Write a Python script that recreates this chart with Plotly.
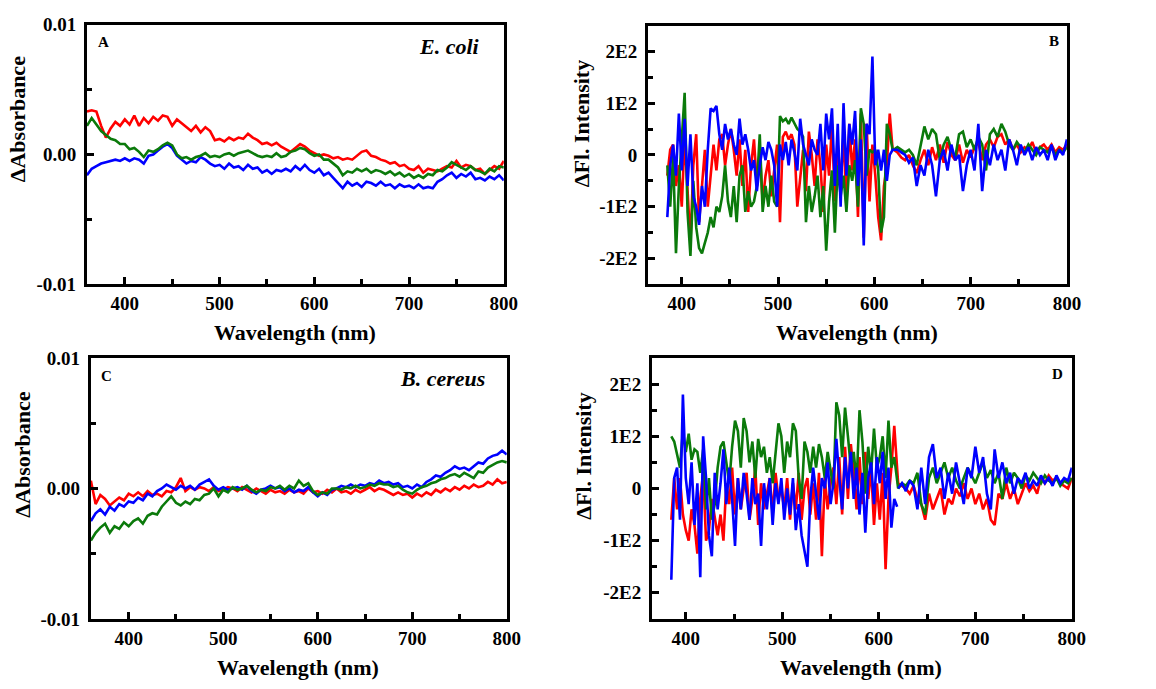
import plotly.graph_objects as go

# ---------------- data ----------------
wl_abs = list(range(360, 801, 5))          # 89 points
wl_fl1 = list(range(385, 620, 3))          # 79 points
wl_fl2 = list(range(620, 801, 4))          # 46 points

absA_red = [0.0033,0.0034,0.0033,0.0022,0.0013,0.0020,0.0025,0.0022,0.0027,0.0023,
            0.0030,0.0022,0.0028,0.0024,0.0029,0.0026,0.0030,0.0029,0.0022,0.0027,
            0.0024,0.0021,0.0018,0.0022,0.0017,0.0021,0.0018,0.0011,0.0012,0.0010,
            0.0013,0.0011,0.0013,0.0012,0.0016,0.0013,0.0011,0.0008,0.0009,0.0007,
            0.0009,0.0006,0.0004,0.0002,0.0005,0.0008,0.0006,0.0003,0.0001,-0.0001,
            0.0000,-0.0001,-0.0003,-0.0002,-0.0004,-0.0003,-0.0004,-0.0001,0.0002,0.0003,
            -0.0001,-0.0002,-0.0004,-0.0005,-0.0007,-0.0006,-0.0009,-0.0008,-0.0011,-0.0012,
            -0.0009,-0.0014,-0.0011,-0.0012,-0.0013,-0.0011,-0.0009,-0.0010,-0.0005,-0.0010,
            -0.0008,-0.0009,-0.0012,-0.0011,-0.0015,-0.0012,-0.0009,-0.0011,-0.0005]
absA_green = [0.0022,0.0028,0.0023,0.0018,0.0015,0.0012,0.0011,0.0008,0.0008,0.0004,
              0.0005,0.0002,-0.0002,0.0003,0.0002,0.0004,0.0007,0.0009,0.0007,0.0000,
              -0.0003,-0.0002,-0.0004,-0.0002,-0.0001,0.0001,-0.0002,-0.0001,-0.0002,0.0000,
              0.0001,-0.0001,0.0001,0.0002,0.0003,0.0001,-0.0001,-0.0002,-0.0001,-0.0002,
              0.0001,-0.0002,-0.0001,0.0002,0.0003,0.0005,0.0004,0.0001,-0.0001,0.0000,
              -0.0004,-0.0004,-0.0007,-0.0010,-0.0016,-0.0013,-0.0014,-0.0011,-0.0013,-0.0011,
              -0.0014,-0.0012,-0.0013,-0.0015,-0.0013,-0.0016,-0.0014,-0.0017,-0.0015,-0.0018,
              -0.0016,-0.0018,-0.0015,-0.0016,-0.0012,-0.0013,-0.0010,-0.0006,-0.0008,-0.0010,
              -0.0012,-0.0009,-0.0012,-0.0013,-0.0015,-0.0011,-0.0013,-0.0009,-0.0010]
absA_blue = [-0.0016,-0.0011,-0.0009,-0.0007,-0.0006,-0.0005,-0.0004,-0.0005,-0.0003,-0.0005,
             -0.0003,-0.0004,-0.0007,-0.0001,0.0000,0.0003,0.0006,0.0008,0.0005,-0.0001,
             -0.0004,-0.0007,-0.0005,-0.0006,-0.0002,-0.0004,-0.0007,-0.0009,-0.0008,-0.0011,
             -0.0007,-0.0010,-0.0009,-0.0012,-0.0008,-0.0011,-0.0010,-0.0014,-0.0012,-0.0015,
             -0.0012,-0.0013,-0.0011,-0.0013,-0.0009,-0.0012,-0.0008,-0.0012,-0.0014,-0.0011,
             -0.0016,-0.0014,-0.0018,-0.0022,-0.0026,-0.0021,-0.0024,-0.0022,-0.0025,-0.0021,
             -0.0022,-0.0024,-0.0021,-0.0024,-0.0023,-0.0026,-0.0023,-0.0025,-0.0024,-0.0026,
             -0.0023,-0.0026,-0.0025,-0.0026,-0.0021,-0.0019,-0.0016,-0.0014,-0.0018,-0.0015,
             -0.0017,-0.0014,-0.0019,-0.0018,-0.0020,-0.0017,-0.0019,-0.0016,-0.0020]

absC_red = [0.0006,-0.0012,-0.0005,-0.0008,-0.0013,-0.0010,-0.0007,-0.0009,-0.0004,-0.0006,
            -0.0003,-0.0006,-0.0002,-0.0005,-0.0004,-0.0006,-0.0002,-0.0003,0.0001,0.0008,
            -0.0002,0.0001,-0.0001,0.0001,0.0000,-0.0002,0.0001,-0.0002,-0.0001,0.0001,
            0.0000,-0.0002,0.0001,-0.0001,-0.0003,0.0000,-0.0002,-0.0004,-0.0001,-0.0003,
            -0.0002,-0.0004,-0.0001,-0.0003,-0.0002,-0.0004,0.0000,-0.0003,-0.0002,-0.0004,
            -0.0001,-0.0003,0.0000,-0.0003,-0.0002,-0.0004,-0.0001,-0.0003,-0.0001,0.0001,
            -0.0002,0.0000,-0.0001,-0.0003,-0.0005,-0.0003,-0.0005,-0.0004,-0.0007,-0.0004,
            -0.0006,-0.0003,-0.0005,-0.0001,-0.0003,0.0000,-0.0002,0.0001,-0.0001,0.0002,
            0.0000,0.0003,0.0001,0.0002,0.0005,0.0003,0.0007,0.0004,0.0005]
absC_blue = [-0.0025,-0.0019,-0.0016,-0.0020,-0.0014,-0.0017,-0.0012,-0.0014,-0.0010,-0.0011,
             -0.0007,-0.0009,-0.0004,-0.0006,-0.0002,0.0000,0.0003,0.0001,-0.0001,0.0002,
             0.0000,0.0002,-0.0001,0.0003,0.0005,0.0007,0.0002,-0.0001,0.0001,-0.0001,
             0.0000,0.0001,-0.0001,0.0002,-0.0002,-0.0004,-0.0001,0.0000,0.0002,0.0000,
             0.0001,-0.0002,0.0000,-0.0003,-0.0001,-0.0002,0.0001,-0.0003,-0.0006,-0.0003,
             -0.0005,-0.0001,0.0000,0.0002,0.0001,0.0003,0.0001,0.0003,0.0002,0.0004,
             0.0003,0.0006,0.0004,0.0005,0.0003,0.0004,0.0001,0.0002,0.0000,0.0003,
             0.0001,0.0005,0.0007,0.0010,0.0009,0.0012,0.0014,0.0017,0.0015,0.0016,
             0.0014,0.0017,0.0020,0.0019,0.0023,0.0025,0.0026,0.0029,0.0026]
absC_green = [-0.0040,-0.0034,-0.0030,-0.0027,-0.0034,-0.0029,-0.0031,-0.0026,-0.0029,-0.0025,
              -0.0023,-0.0027,-0.0021,-0.0019,-0.0020,-0.0014,-0.0010,-0.0006,-0.0011,-0.0013,
              -0.0010,-0.0012,-0.0008,-0.0009,-0.0005,-0.0004,0.0000,-0.0006,-0.0001,-0.0003,
              0.0001,-0.0001,0.0000,0.0002,-0.0001,-0.0003,-0.0001,-0.0002,0.0001,0.0000,
              0.0002,-0.0001,0.0002,0.0000,0.0006,0.0002,0.0004,-0.0002,-0.0005,-0.0003,
              -0.0004,0.0000,0.0000,-0.0001,0.0001,0.0000,0.0002,0.0000,0.0001,0.0003,
              0.0002,0.0004,0.0003,0.0003,0.0001,0.0002,-0.0001,-0.0003,-0.0004,-0.0001,
              0.0001,0.0002,0.0004,0.0005,0.0007,0.0008,0.0010,0.0011,0.0009,0.0012,
              0.0010,0.0008,0.0013,0.0012,0.0016,0.0018,0.0020,0.0021,0.0020]

flB_red1 = [-40,10,20,-60,-20,-100,35,-60,-170,-20,
            40,-130,-60,10,-100,-40,20,-30,30,40,
            -20,20,50,10,-40,30,-60,10,-110,-20,
            30,-60,10,-90,-40,-10,-80,-30,20,-130,
            35,45,30,40,20,-100,-40,10,-70,45,
            0,-60,30,-20,-110,20,-40,60,-90,20,
            -60,40,-100,60,-30,30,-120,80,-160,60,
            -90,20,-40,-120,-165,-60,-20,80,10]
flB_red2 = [10,5,-5,-10,0,-20,-35,-10,10,-20,
            15,-10,20,-15,25,0,-10,20,-15,10,
            -5,15,25,-10,20,30,15,35,40,20,
            30,10,20,5,15,10,25,5,15,20,
            10,20,5,15,10,20]
flB_green1 = [-20,-100,0,-190,-60,30,120,-110,-195,-50,
              -140,-180,-190,-170,-150,-120,-140,-100,-110,-80,
              -20,-90,-120,-60,-130,-40,-20,-110,-70,-100,
              -90,-60,40,-110,-60,-100,-40,-90,-100,75,
              65,70,60,72,60,50,45,35,-130,-60,
              -110,-80,-40,-120,-60,-185,-90,-30,-150,-20,
              -80,-40,-110,-20,-50,-10,-100,90,60,-40,
              10,5,10,-30,-150,-120,60,40,10]
flB_green2 = [10,15,10,5,10,0,-20,20,55,30,
              50,40,-10,20,35,10,-5,40,45,15,
              30,10,35,20,-30,40,50,35,60,45,
              20,10,25,15,5,20,10,0,15,10,
              5,15,0,10,5,15]
flB_blue1 = [-120,-20,20,-40,80,-30,70,-60,40,-80,
             -100,-135,-60,-100,10,90,85,95,40,10,
             60,30,50,20,0,70,20,40,10,-30,
             -10,-70,-20,15,-10,25,10,-20,-100,20,
             -10,25,-20,30,5,-30,70,20,0,-20,
             30,10,0,60,-30,80,30,90,-60,60,
             -100,100,-40,60,20,85,-60,30,-175,60,
             40,190,-20,10,-30,10,-50,0,10]
flB_blue2 = [10,10,5,0,-15,-5,-60,-20,-40,10,
             -20,-80,-10,10,-30,20,-10,0,-70,-20,
             10,-30,60,-70,10,-20,20,-10,10,-30,
             30,10,-20,20,0,15,-10,15,0,10,
             -10,20,-10,10,0,30]

flD_red1 = [-60,20,-40,20,-50,-80,-100,-40,-70,-125,
            -20,30,-100,-80,-20,-60,-90,-50,-100,10,
            -30,40,-50,20,-40,0,30,-60,-20,40,
            -70,10,-40,-10,20,-50,30,-20,0,-40,
            20,-60,10,-40,30,-60,0,20,-50,10,
            -60,30,-130,20,-40,10,40,-30,60,-50,
            80,-20,85,30,-40,60,-30,70,-20,40,
            -70,10,-60,30,-155,-20,40,120,20]
flD_red2 = [10,5,0,-10,5,-20,-30,-60,-10,-40,
            -20,0,-50,-20,-30,0,-15,10,-20,0,
            -30,-10,-40,-20,-60,-70,-10,-20,10,-20,
            0,-30,-10,10,-5,5,-10,20,10,25,
            15,20,10,5,0,20]
flD_green1 = [100,90,65,40,110,70,105,55,75,70,
              30,75,-40,20,-60,-30,40,80,90,50,
              10,80,130,110,40,135,110,50,90,20,
              95,60,80,30,60,10,70,125,100,30,
              90,60,125,110,20,-20,90,70,30,80,
              40,85,60,20,70,30,0,165,140,60,
              155,100,40,70,10,150,90,-10,80,30,
              115,40,60,100,20,130,40,60,10]
flD_green2 = [0,10,5,15,10,30,-30,-50,20,40,
              10,30,50,20,40,15,0,20,40,25,
              10,30,50,20,35,10,30,-20,40,10,
              30,20,0,25,15,30,20,10,25,15,
              10,20,5,15,10,20]
flD_blue1 = [-175,20,40,-60,180,20,-30,50,-70,10,
             -170,100,20,-90,-130,30,-40,10,75,-30,
             40,-20,-110,20,-40,30,-10,-60,20,-30,
             -10,-110,10,-40,20,-70,10,-30,20,-60,
             0,-50,20,-80,-30,-90,-120,-150,-20,40,
             -10,-60,20,0,50,-30,10,95,20,-40,
             60,0,70,-20,40,-50,30,-85,20,50,
             -30,60,10,70,-20,40,-75,-20,-35]
flD_blue2 = [0,10,-5,15,5,-40,40,-30,60,85,
             20,40,-20,30,-10,50,10,-30,40,20,
             80,30,60,-10,-40,75,20,50,10,30,
             -10,20,10,30,0,15,5,25,10,20,
             5,25,10,20,15,40]

x_tickvals = [400, 500, 600, 700, 800]
x_minor = [450, 550, 650, 750]
abs_tickvals = [-0.01, 0.0, 0.01]
abs_ticktext = ["-0.01", "0.00", "0.01"]
abs_minor = [-0.005, 0.005]
fl_tickvals = [-200, -100, 0, 100, 200]
fl_ticktext = ["-2E2", "-1E2", "0", "1E2", "2E2"]
fl_minor = [-150, -50, 50, 150]

# ---------------- styling ----------------
W, H = 1156, 689
FONT = "Times New Roman, Liberation Serif, DejaVu Serif, serif"
RED, GREEN, BLUE = "#ff0000", "#0b7a0b", "#0000ff"
LW = 2.6


def px(x):
    return x / W


def py(y):
    return 1 - y / H


fig = go.Figure()


def add(x, y, color, n):
    fig.add_trace(go.Scatter(x=x, y=y, mode="lines", showlegend=False,
                             line=dict(color=color, width=LW),
                             xaxis="x" + ("" if n == 1 else str(n)),
                             yaxis="y" + ("" if n == 1 else str(n))))


# Panel A
add(wl_abs, absA_red, RED, 1)
add(wl_abs, absA_blue, BLUE, 1)
add(wl_abs, absA_green, GREEN, 1)
# Panel B
add(wl_fl1 + wl_fl2, flB_red1 + flB_red2, RED, 2)
add(wl_fl1 + wl_fl2, flB_green1 + flB_green2, GREEN, 2)
add(wl_fl1 + wl_fl2, flB_blue1 + flB_blue2, BLUE, 2)
# Panel C
add(wl_abs, absC_red, RED, 3)
add(wl_abs, absC_blue, BLUE, 3)
add(wl_abs, absC_green, GREEN, 3)
# Panel D
add(wl_fl1 + wl_fl2, flD_red1 + flD_red2, RED, 4)
add(wl_fl1 + wl_fl2, flD_green1 + flD_green2, GREEN, 4)
add(wl_fl1 + [None] + wl_fl2, flD_blue1 + [None] + flD_blue2, BLUE, 4)

tickfont = dict(family=FONT, size=19, color="black", weight="bold")


def axis_common():
    return dict(showline=True, linecolor="black", linewidth=3, mirror=True,
                ticks="inside", ticklen=7, tickwidth=3, tickcolor="black",
                tickfont=tickfont, showgrid=False, zeroline=False)


def xax(x0, x1, anchor, rng):
    d = axis_common()
    d.update(domain=[px(x0), px(x1)], anchor=anchor, range=rng,
             tickmode="array", tickvals=x_tickvals, ticklabelstandoff=0,
             ticktext=[str(v) for v in x_tickvals],
             minor=dict(ticks="inside", ticklen=5, tickwidth=3,
                        tickcolor="black", tickmode="array", tickvals=x_minor))
    return d


def yax(y0, y1, anchor, rng, tv, tt, mv):
    d = axis_common()
    d.update(domain=[py(y1), py(y0)], anchor=anchor, range=rng,
             tickmode="array", tickvals=tv, ticktext=tt, ticklabelstandoff=4,
             minor=dict(ticks="inside", ticklen=5, tickwidth=3,
                        tickcolor="black", tickmode="array", tickvals=mv))
    return d


layout = dict(
    width=W, height=H, margin=dict(l=0, r=0, t=0, b=0),
    paper_bgcolor="white", plot_bgcolor="white", showlegend=False,
    xaxis=xax(88, 510, "y", [360, 800]),
    yaxis=yax(15, 283, "x", [-0.01, 0.01], abs_tickvals, abs_ticktext, abs_minor),
    xaxis2=xax(656, 1080, "y2", [365, 800]),
    yaxis2=yax(16, 283, "x2", [-250, 250], fl_tickvals, fl_ticktext, fl_minor),
    xaxis3=xax(92, 513, "y3", [360, 800]),
    yaxis3=yax(359, 628, "x3", [-0.01, 0.01], abs_tickvals, abs_ticktext, abs_minor),
    xaxis4=xax(660, 1085, "y4", [365, 800]),
    yaxis4=yax(359, 628, "x4", [-250, 250], fl_tickvals, fl_ticktext, fl_minor),
)
fig.update_layout(**layout)

title_font = dict(family=FONT, size=22, color="black", weight="bold")


def ann(text, x, y, font, angle=0):
    fig.add_annotation(text=text, x=px(x), y=py(y), xref="paper", yref="paper",
                       showarrow=False, font=font, textangle=angle,
                       xanchor="center", yanchor="middle")


# axis titles
ann("Wavelength (nm)", 299, 333, title_font)
ann("Wavelength (nm)", 868, 333, title_font)
ann("Wavelength (nm)", 302, 678, title_font)
ann("Wavelength (nm)", 872, 678, title_font)
ann("ΔAbsorbance", 18, 113, title_font, -90)
ann("ΔAbsorbance", 22, 459, title_font, -90)
ann("ΔFl. Intensity", 589, 117, title_font, -90)
ann("ΔFl. Intensity", 591, 460, title_font, -90)

# panel labels
lab_font = dict(family=FONT, size=15, color="black", weight="bold")
ann("A", 105, 33, lab_font)
ann("B", 1067, 32, lab_font)
ann("C", 108, 378, lab_font)
ann("D", 1070, 375, lab_font)
sp_font = dict(family=FONT, size=22, color="black", weight="bold", style="italic")
ann("E. coli", 455, 38, sp_font)
ann("B. cereus", 448, 380, sp_font)

fig.write_html("out.html")
